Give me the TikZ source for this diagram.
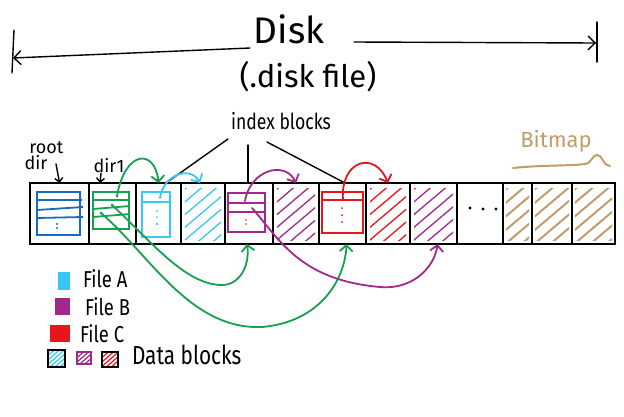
\documentclass[tikz,border=0pt]{standalone}
\usepackage{fontspec}
\setmainfont{Fira Sans}
\newfontfamily\handn[FakeStretch=0.8]{Fira Sans}
\usetikzlibrary{arrows.meta}
\definecolor{rootblue}{HTML}{1A6BC0}
\definecolor{dgreen}{HTML}{16A050}
\definecolor{lblue}{HTML}{38C8F5}
\definecolor{fpurple}{HTML}{A2288E}
\definecolor{fred}{HTML}{E8151F}
\definecolor{ftan}{HTML}{C29D6A}
\newcommand\hatchbox[6]{%
  \begin{scope}
    \clip (#2,#3) rectangle (#4,#5);
    \foreach \k in {0,...,14}
      \draw[#1] ({#2-(#5-#3)*1.2+\k*#6},{#5+2}) -- ++({(#5-#3)*1.2+6},{-(#5-#3)-6});
  \end{scope}}
\begin{document}
\begin{tikzpicture}[x=1pt,y=-1pt,
  cell/.style={draw=black, line width=1.5pt, inner sep=0pt, outer sep=0pt, minimum height=61pt},
  ibox/.style={draw, line width=1.8pt, inner sep=0pt, outer sep=0pt},
  flow/.style={line width=1.8pt, line cap=round, -{Straight Barb[length=6pt,width=13pt]}},
  blk/.style={line width=1.4pt, line cap=round},
  lbl/.style={inner sep=0pt, outer sep=0pt, text=black},
  hatchline/.style={line width=1.3pt, line cap=round},
  tanline/.style={line width=2pt, line cap=round}]
\fill[white] (0,0) rectangle (624,416);
\useasboundingbox (0,0) rectangle (624,416);

% title
\node[lbl, font=\fontsize{37}{38}\selectfont] (disk) at (289,29) {Disk};
\node[lbl, font=\fontsize{31}{32}\selectfont] (diskfile) at (308,77) {(.disk file)};
\coordinate (al) at (250,48);
\coordinate (lend) at (13,58);
\coordinate (ar) at (354,42);
\coordinate (rend) at (596,43);
\draw[blk, -{Straight Barb[length=7pt,width=14pt]}] (al) -- (lend);
\draw[blk, -{Straight Barb[length=7pt,width=14pt]}] (ar) -- (rend);
\draw[blk] (14,30) -- (12,73);
\draw[blk] (597,22) -- (597,62);

% hatches
\hatchbox{lblue,hatchline}{185}{188}{221}{240}{15}
\hatchbox{fpurple,hatchline}{277}{188}{315}{240}{15}
\hatchbox{fred,hatchline}{370}{188}{406}{240}{15}
\hatchbox{fpurple,hatchline}{414}{188}{453}{240}{15}
\hatchbox{ftan,tanline}{506}{188}{529}{240}{16}
\hatchbox{ftan,tanline}{535}{188}{569}{240}{16}
\hatchbox{ftan,tanline}{575}{188}{612}{240}{16}

% cells
\foreach \n/\a/\b in {1/30/89,2/89/136,3/136/181,4/181/225,5/225/273,6/273/319,7/319/366,8/366/410,9/410/457,10/457/503,11/503/532,12/532/572,13/572/615}
  \node[cell, minimum width={(\b-\a)*1pt}] (c\n) at ({(\a+\b)/2},213.5) {};

% root dir block
\node[ibox, draw=rootblue, minimum width=43pt, minimum height=43pt] (rootbox) at (58.5,213.5) {};
\draw[rootblue, line width=1.8pt] (37,200) -- (82,200) (37,210) -- (83,207) (37,218) -- (83,217);
\fill[rootblue] (57,224) circle (1.1) (57,228) circle (1.1);

% dir1 block
\node[ibox, draw=dgreen, minimum width=36pt, minimum height=37pt] (dirbox) at (111,210.5) {};
\draw[dgreen, line width=1.8pt] (93,200) -- (129,200) (93,209) -- (130,206) (93,217) -- (130,214);
\coordinate (g1) at (117,196);
\coordinate (g2) at (112,205);
\coordinate (g3) at (101,213);
\fill[dgreen] (g1) circle (1.5) (g2) circle (1.5) (g3) circle (1.5);

% file A index
\node[ibox, draw=lblue, minimum width=28pt, minimum height=45pt] (abox) at (156,214.5) {};
\draw[lblue, line width=1.8pt] (142,202) -- (170,202);
\fill[lblue] (157,211) circle (1) (157,217) circle (1) (157,224) circle (1.3);
\coordinate (la) at (160,198);

% file B index
\node[ibox, draw=fpurple, minimum width=37pt, minimum height=39pt] (bbox) at (246.5,212.5) {};
\draw[fpurple, line width=1.8pt] (228,203) -- (265,203) (228,212) -- (265,212);
\fill[fpurple] (246,220) circle (0.9) (246,224) circle (0.9);
\coordinate (pb1) at (245,201);
\coordinate (pb2) at (252,208);

% file C index
\node[ibox, draw=fred, minimum width=41pt, minimum height=41pt] (cbox) at (342.5,212.5) {};
\draw[fred, line width=1.8pt] (322,200) -- (363,200);
\fill[fred] (342,208) circle (1) (342,215) circle (1) (342,222) circle (1);
\coordinate (rc) at (343,200);

% dots in empty cell
\fill (470,208) circle (1.6) (483,209) circle (1.6) (496,209) circle (1.6);

% labels
\node[lbl, align=left, font=\fontsize{18}{16}\selectfont] (rootlbl) at (44,156) {\ root\\dir};
\draw[blk, -{Straight Barb[length=4pt,width=8pt]}] (56,164) .. controls (58,172) .. (c1.north);
\node[lbl, font=\fontsize{18}{18}\selectfont] (dirlbl) at (109,166) {dir1};
\draw[blk, -{Straight Barb[length=4pt,width=8pt]}] (101,173) -- ([xshift=-12.5pt]c2.north);

\node[lbl, font=\handn\fontsize{22}{22}\selectfont] (iblbl) at (281,121) {index blocks};
\coordinate (ib1) at (228,139);
\coordinate (ib2) at (248,145);
\coordinate (ib3) at (267,142);
\draw[blk] (ib1) -- ([xshift=7.5pt]c3.north);
\draw[blk] (ib2) -- ([xshift=-1pt]c5.north);
\draw[blk] (ib3) -- ([xshift=2.5pt]c7.north);

\node[lbl, text=ftan, font=\fontsize{22}{22}\selectfont] (bmlbl) at (556,141) {Bitmap};
\draw[ftan, tanline] (513,168) .. controls (540,165) and (570,166) .. (585,164) .. controls (592,163) and (592,155) .. (597,155) .. controls (603,155) and (601,164) .. (610,166);

% connectors
\draw[flow, dgreen] (g1) .. controls (125,150) and (155,148) .. (c3.north);
\draw[flow, lblue] (la) .. controls (163,175) and (190,165) .. ([xshift=-3pt]c4.north);
\draw[flow, fpurple] (pb1) .. controls (250,170) and (285,160) .. (c6.north);
\draw[flow, fred] (rc) .. controls (340,160) and (375,150) .. (c8.north);
\draw[flow, dgreen] (g2) .. controls (150,240) and (185,285) .. (222,285) .. controls (240,285) and (250,265) .. ([xshift=-2pt]c5.south);
\draw[flow, dgreen] (g3) .. controls (150,255) and (190,330) .. (262,327) .. controls (320,322) and (345,280) .. ([xshift=4pt]c7.south);
\draw[flow, fpurple] (pb2) .. controls (280,240) and (300,280) .. (380,287) .. controls (415,290) and (435,265) .. ([xshift=4pt]c9.south);

% legend
\fill[lblue] (58,272) rectangle (70,290);
\fill[fpurple] (55,298) rectangle (70,315);
\fill[fred] (50,325) rectangle (70,342);
\node[lbl, anchor=west, font=\handn\fontsize{23}{23}\selectfont] (fa) at (83,279) {File A};
\node[lbl, anchor=west, font=\handn\fontsize{23}{23}\selectfont] (fb) at (85,307) {File B};
\node[lbl, anchor=west, font=\handn\fontsize{23}{23}\selectfont] (fc) at (80,334) {File C};
\hatchbox{lblue,line width=1.2pt}{48}{350}{65}{367}{5}
\draw[black, line width=1.4pt] (48,350) rectangle (65,367);
\hatchbox{fpurple,line width=1.2pt}{77}{352}{91}{364}{5}
\draw[fpurple, line width=1.4pt] (77,352) rectangle (91,364);
\hatchbox{fred,line width=1.2pt}{102}{352}{118}{367}{5}
\draw[black, line width=1.4pt] (102,352) rectangle (118,367);
\node[lbl, anchor=west, font=\handn\fontsize{26}{26}\selectfont] (dbl) at (132,355) {Data blocks};
\end{tikzpicture}
\end{document}
